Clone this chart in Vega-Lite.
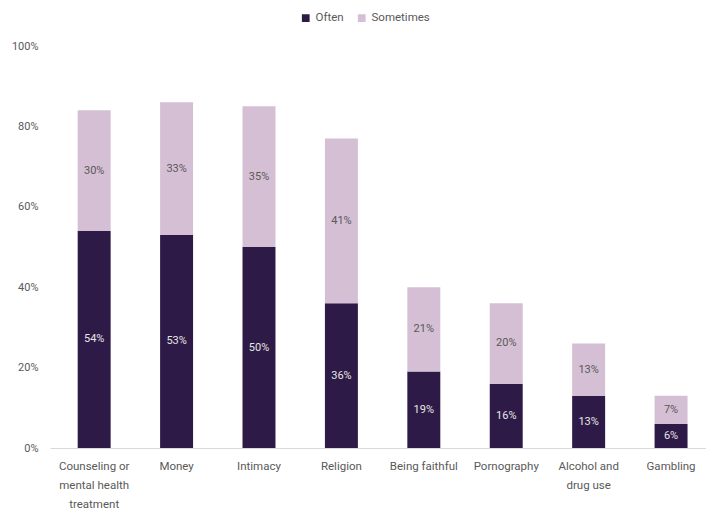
{
  "$schema": "https://vega.github.io/schema/vega-lite/v6.json",
  "width": 656,
  "height": 402,
  "autosize": "none",
  "padding": {"left": 50, "top": 46, "right": 0, "bottom": 64},
  "background": "white",
  "config": {
    "view": {"stroke": null},
    "font": "Roboto, sans-serif",
    "axis": {"labelFont": "Roboto, sans-serif", "labelColor": "#595959", "labelFontSize": 11.5},
    "legend": {"labelFont": "Roboto, sans-serif"}
  },
  "data": {
    "values": [
      {"category": "Counseling or mental health treatment", "series": "Often", "value": 0.54},
      {"category": "Counseling or mental health treatment", "series": "Sometimes", "value": 0.30},
      {"category": "Money", "series": "Often", "value": 0.53},
      {"category": "Money", "series": "Sometimes", "value": 0.33},
      {"category": "Intimacy", "series": "Often", "value": 0.50},
      {"category": "Intimacy", "series": "Sometimes", "value": 0.35},
      {"category": "Religion", "series": "Often", "value": 0.36},
      {"category": "Religion", "series": "Sometimes", "value": 0.41},
      {"category": "Being faithful", "series": "Often", "value": 0.19},
      {"category": "Being faithful", "series": "Sometimes", "value": 0.21},
      {"category": "Pornography", "series": "Often", "value": 0.16},
      {"category": "Pornography", "series": "Sometimes", "value": 0.20},
      {"category": "Alcohol and drug use", "series": "Often", "value": 0.13},
      {"category": "Alcohol and drug use", "series": "Sometimes", "value": 0.13},
      {"category": "Gambling", "series": "Often", "value": 0.06},
      {"category": "Gambling", "series": "Sometimes", "value": 0.07}
    ]
  },
  "transform": [
    {"stack": "value", "groupby": ["category"], "sort": [{"field": "series", "order": "ascending"}], "as": ["v0", "v1"]},
    {"calculate": "(datum.v0 + datum.v1) / 2", "as": "mid"}
  ],
  "encoding": {
    "x": {
      "field": "category",
      "type": "nominal",
      "sort": null,
      "title": null,
      "scale": {"paddingInner": 0.6, "paddingOuter": 0.28, "align": 0.6},
      "axis": {
        "labelAngle": 0,
        "ticks": false,
        "domainColor": "#d9d9d9",
        "labelPadding": 18,
        "labelLineHeight": 19,
        "labelBaseline": "middle",
        "labelExpr": "datum.value == 'Counseling or mental health treatment' ? ['Counseling or', 'mental health', 'treatment'] : datum.value == 'Alcohol and drug use' ? ['Alcohol and', 'drug use'] : datum.value"
      }
    }
  },
  "layer": [
    {
      "mark": {"type": "bar"},
      "encoding": {
        "y": {
          "field": "v0",
          "type": "quantitative",
          "title": null,
          "scale": {"domain": [0, 1]},
          "axis": {"format": ".0%", "values": [0, 0.2, 0.4, 0.6, 0.8, 1], "grid": false, "domain": false, "ticks": false, "labelPadding": 12, "labelFontSize": 11}
        },
        "y2": {"field": "v1"},
        "color": {
          "field": "series",
          "type": "nominal",
          "title": null,
          "scale": {"domain": ["Often", "Sometimes"], "range": ["#2E1A47", "#D5BFD4"]},
          "legend": {
            "orient": "none",
            "direction": "horizontal",
            "legendX": 250,
            "legendY": -34,
            "symbolType": "square",
            "symbolSize": 60,
            "symbolStrokeWidth": 0,
            "symbolOpacity": 1,
            "labelFontSize": 11.5,
            "labelColor": "#595959",
            "columnPadding": 12,
            "labelOffset": 4
          }
        }
      }
    },
    {
      "mark": {"type": "text", "fontSize": 11, "baseline": "middle", "align": "center"},
      "encoding": {
        "y": {"field": "mid", "type": "quantitative"},
        "text": {"field": "value", "type": "quantitative", "format": ".0%"},
        "color": {"condition": {"test": "datum.series == 'Often'", "value": "#E6E6E6"}, "value": "#595959"}
      }
    }
  ]
}
